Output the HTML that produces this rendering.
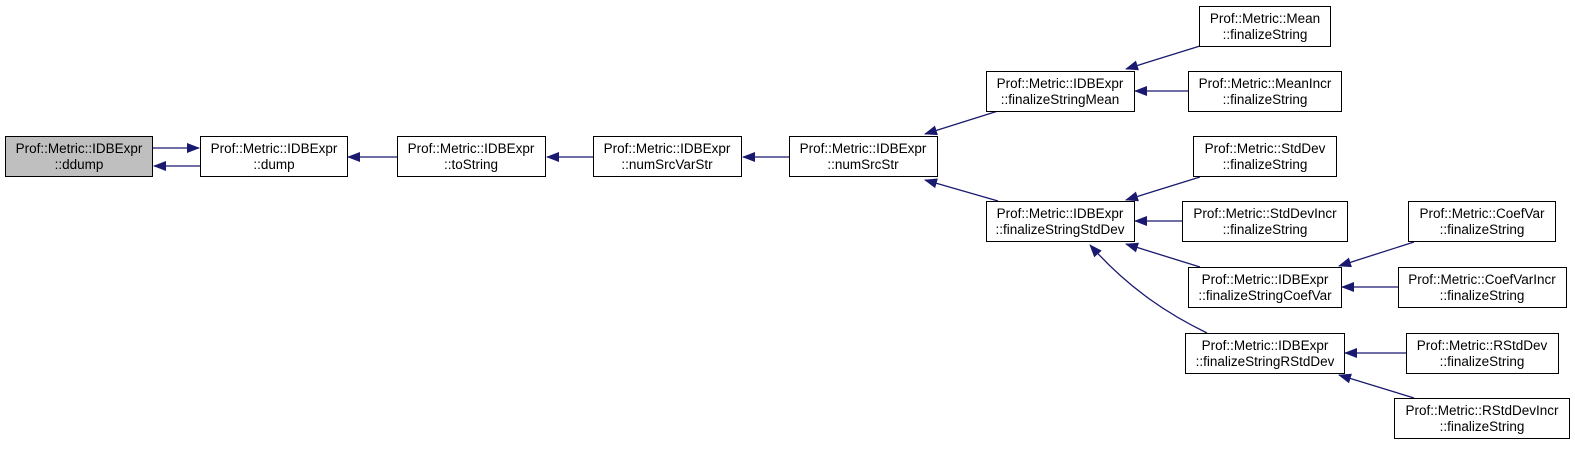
<!DOCTYPE html>
<html><head><meta charset="utf-8"><style>
body{margin:0;background:#fff}
svg text{font-family:"Liberation Sans",sans-serif;font-size:13.5px;fill:#000}
</style></head><body>
<svg width="1575" height="444" xmlns="http://www.w3.org/2000/svg">
<defs><marker id="a" markerWidth="13" markerHeight="10" refX="12" refY="5" orient="auto" markerUnits="userSpaceOnUse"><path d="M0,0 L13,5 L0,10 z" fill="#191970"/></marker></defs>
<g stroke="#191970" stroke-width="1.3" fill="none" marker-end="url(#a)">
<line x1="153" y1="148" x2="199" y2="148"/>
<line x1="200" y1="166" x2="154" y2="166"/>
<line x1="397" y1="157" x2="348" y2="157"/>
<line x1="593" y1="157" x2="547" y2="157"/>
<line x1="789" y1="157" x2="743" y2="157"/>
<line x1="998" y1="111" x2="925" y2="134"/>
<line x1="998" y1="201" x2="925" y2="180"/>
<line x1="1200" y1="46" x2="1126" y2="69"/>
<line x1="1188" y1="91" x2="1135" y2="91"/>
<line x1="1200" y1="177" x2="1126" y2="200"/>
<line x1="1182" y1="221" x2="1135" y2="221"/>
<line x1="1200" y1="267" x2="1126" y2="244"/>
<path d="M1207,333 C1170,315 1130,290 1090,245"/>
<line x1="1414" y1="242" x2="1339" y2="266"/>
<line x1="1398" y1="287" x2="1342" y2="287"/>
<line x1="1406" y1="353" x2="1345" y2="353"/>
<line x1="1414" y1="398" x2="1339" y2="375"/>
</g>
<g stroke="#000" stroke-width="1" fill="#fff">
<rect x="5.5" y="136.5" width="147" height="40" fill="#bfbfbf"/>
<rect x="200.5" y="136.5" width="147" height="40"/>
<rect x="397.5" y="136.5" width="148" height="40"/>
<rect x="593.5" y="136.5" width="148" height="40"/>
<rect x="789.5" y="136.5" width="148" height="40"/>
<rect x="986.5" y="71.5" width="148" height="40"/>
<rect x="986.5" y="201.5" width="148" height="40"/>
<rect x="1199.5" y="6.5" width="131" height="40"/>
<rect x="1188.5" y="71.5" width="153" height="40"/>
<rect x="1193.5" y="136.5" width="143" height="40"/>
<rect x="1182.5" y="201.5" width="165" height="40"/>
<rect x="1188.5" y="267.5" width="153" height="40"/>
<rect x="1185.5" y="333.5" width="159" height="40"/>
<rect x="1408.5" y="201.5" width="147" height="40"/>
<rect x="1398.5" y="267.5" width="168" height="40"/>
<rect x="1406.5" y="333.5" width="152" height="40"/>
<rect x="1394.5" y="398.5" width="175" height="40"/>
</g>
<g text-anchor="middle">
<text x="79" y="153">Prof::Metric::IDBExpr</text><text x="79" y="169">::ddump</text>
<text x="274" y="153">Prof::Metric::IDBExpr</text><text x="274" y="169">::dump</text>
<text x="471" y="153">Prof::Metric::IDBExpr</text><text x="471" y="169">::toString</text>
<text x="667" y="153">Prof::Metric::IDBExpr</text><text x="667" y="169">::numSrcVarStr</text>
<text x="863" y="153">Prof::Metric::IDBExpr</text><text x="863" y="169">::numSrcStr</text>
<text x="1060" y="88">Prof::Metric::IDBExpr</text><text x="1060" y="104">::finalizeStringMean</text>
<text x="1060" y="218">Prof::Metric::IDBExpr</text><text x="1060" y="234">::finalizeStringStdDev</text>
<text x="1265" y="23">Prof::Metric::Mean</text><text x="1265" y="39">::finalizeString</text>
<text x="1265" y="88">Prof::Metric::MeanIncr</text><text x="1265" y="104">::finalizeString</text>
<text x="1265" y="153">Prof::Metric::StdDev</text><text x="1265" y="169">::finalizeString</text>
<text x="1265" y="218">Prof::Metric::StdDevIncr</text><text x="1265" y="234">::finalizeString</text>
<text x="1265" y="284">Prof::Metric::IDBExpr</text><text x="1265" y="300">::finalizeStringCoefVar</text>
<text x="1265" y="350">Prof::Metric::IDBExpr</text><text x="1265" y="366">::finalizeStringRStdDev</text>
<text x="1482" y="218">Prof::Metric::CoefVar</text><text x="1482" y="234">::finalizeString</text>
<text x="1482" y="284">Prof::Metric::CoefVarIncr</text><text x="1482" y="300">::finalizeString</text>
<text x="1482" y="350">Prof::Metric::RStdDev</text><text x="1482" y="366">::finalizeString</text>
<text x="1482" y="415">Prof::Metric::RStdDevIncr</text><text x="1482" y="431">::finalizeString</text>
</g>
</svg>
</body></html>
